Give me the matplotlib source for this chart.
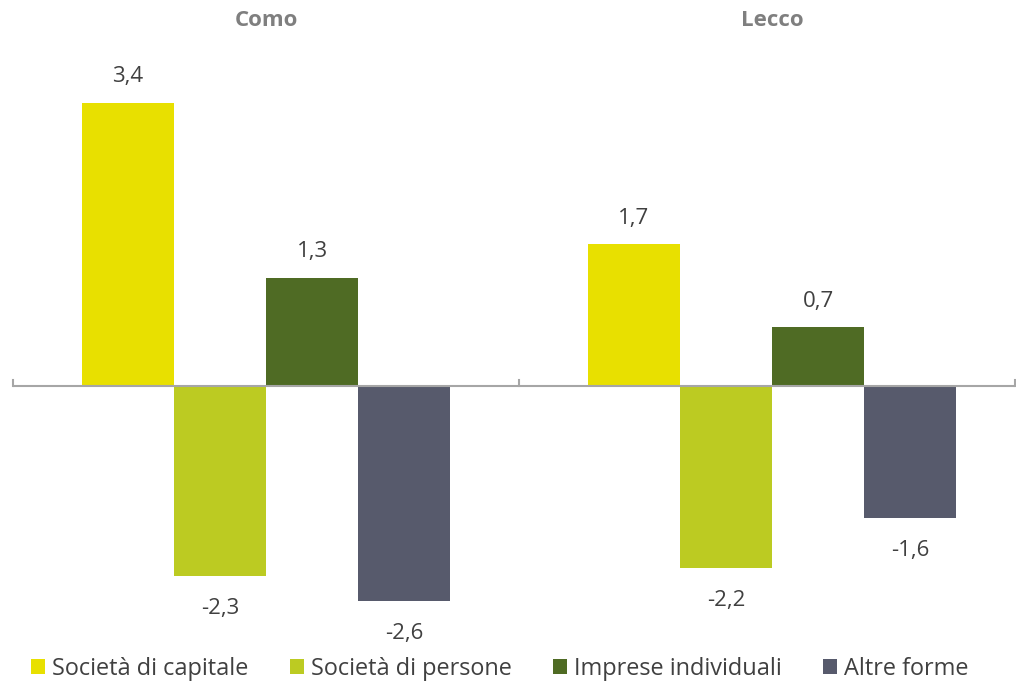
import matplotlib.pyplot as plt
import matplotlib.transforms as mtransforms
from matplotlib.patches import Patch
import numpy as np

plt.rcParams['font.family'] = ['Open Sans', 'DejaVu Sans']

# Data
provinces = ['Como', 'Lecco']
series = ['Società di capitale', 'Società di persone', 'Imprese individuali', 'Altre forme']
values = {
    'Società di capitale': [3.4, 1.7],
    'Società di persone': [-2.3, -2.2],
    'Imprese individuali': [1.3, 0.7],
    'Altre forme': [-2.6, -1.6],
}
colors = ['#E8E000', '#BCCB22', '#4F6B24', '#575A6C']

W, H = 1016, 682
fig = plt.figure(figsize=(W / 100, H / 100), dpi=100)

# axes placed in pixel terms: x from 13 to 1015, y from 640 (bottom) to 60 (top)
ax = fig.add_axes([13 / W, (H - 640) / H, 1002 / W, 580 / H])

px_per_unit = 83.0
zero_px = 385.5
ymin = -(640 - zero_px) / px_per_unit
ymax = (zero_px - 60) / px_per_unit
ax.set_ylim(ymin, ymax)
ax.set_xlim(-0.5, 1.48)

x = np.arange(len(provinces))
width = 0.182
text_col = '#404040'

for i, (name, col) in enumerate(zip(series, colors)):
    offs = (i - 1.5) * width
    vals = values[name]
    ax.bar(x + offs, vals, width=width, color=col, zorder=2)
    for xi, v in zip(x, vals):
        lab = f'{v:.1f}'.replace('.', ',')
        dy = 19 if v >= 0 else -23
        ax.annotate(lab, (xi + offs, v), xytext=(0, dy),
                    textcoords='offset points', ha='center', va='center',
                    fontsize=16, color=text_col)

# zero line with small upward ticks at category boundaries
ax.axhline(0, color='#A6A6A6', linewidth=1.5, zorder=3)
for xb in [-0.5, 0.5, 1.48]:
    ax.plot([xb, xb], [0, 6 / px_per_unit], color='#A6A6A6', linewidth=1.5,
            zorder=3, clip_on=False)

ax.set_axis_off()

# province labels at top
trans = mtransforms.blended_transform_factory(ax.transData, fig.transFigure)
for xi, p in zip(x, provinces):
    ax.text(xi, 1 - 21 / H, p, transform=trans, ha='center', va='center',
            fontsize=16, fontweight='bold', color='#7F7F7F')

# Legend
handles = [Patch(facecolor=c, edgecolor='none', label=s) for s, c in zip(series, colors)]
fig.legend(handles=handles, loc='center', bbox_to_anchor=(0.492, 1 - 669 / H), ncol=4,
           frameon=False, fontsize=16.9, handlelength=0.6, handleheight=0.6,
           handletextpad=0.3, columnspacing=1.75, labelcolor=text_col,
           borderaxespad=0)

fig.savefig('out.png', dpi=100)
